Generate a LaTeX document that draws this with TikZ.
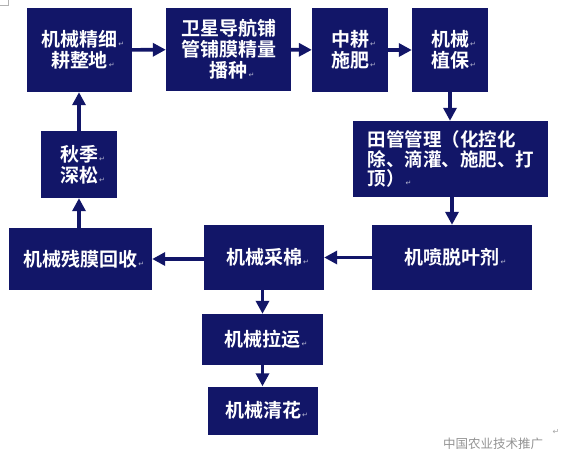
\documentclass[tikz,border=0pt]{standalone}
\usepackage{fontspec}
\newfontfamily\cjk{Noto Sans CJK SC Bold}
\newfontfamily\cjkr{Noto Sans CJK SC}
\newfontfamily\symf{DejaVu Sans}
\usetikzlibrary{arrows.meta}
\definecolor{navy}{RGB}{18,22,104}
\newcommand\parmark{\rlap{\hspace{1pt}\symf\fontsize{7}{7}\selectfont\color{white!70!navy}↵}}
\tikzset{
  box/.style={fill=navy, text=white, inner sep=0pt, align=center,
    font=\cjk\fontsize{19}{21}\selectfont},
  arr/.style={draw=navy, line width=3.6pt, -{Triangle[length=13pt,width=13pt]}},
}
\begin{document}
\begin{tikzpicture}[x=1pt,y=-1pt]
\fill[white] (0,0) rectangle (563,451);
\useasboundingbox (0,0) rectangle (563,451);
% corner mark
\draw[gray!60, line width=0.6pt] (0,5) -- (8,5) -- (8,0);
% boxes
\node[box, minimum width=105pt, minimum height=84pt] (A) at (79.5,50) {机械精细\parmark\\耕整地\parmark};
\node[box, minimum width=125pt, minimum height=83pt] (B) at (228.5,49.5) {卫星导航铺\\管铺膜精量\\播种\parmark};
\node[box, minimum width=76pt, minimum height=84pt] (C) at (350,50) {中耕\parmark\\施肥\parmark};
\node[box, minimum width=76pt, minimum height=84pt] (D) at (450,50) {机械\parmark\\植保\parmark};
\node[box, minimum width=195pt, minimum height=76pt, align=left, text width=166pt,
  font=\cjk\fontsize{18.5}{19.5}\selectfont] (E) at (450.5,159) {田管管理（化控化\\除、滴灌、施肥、打\\顶）\parmark};
\node[box, minimum width=160pt, minimum height=65pt] (F) at (452,257.5) {机喷脱叶剂\parmark};
\node[box, minimum width=120pt, minimum height=65pt] (G) at (264,257.5) {机械采棉\parmark};
\node[box, minimum width=143pt, minimum height=62pt] (H) at (80.5,259) {机械残膜回收\parmark};
\node[box, minimum width=76pt, minimum height=67pt] (I) at (79,164.5) {秋季\parmark\\深松\parmark};
\node[box, minimum width=121pt, minimum height=51pt] (J) at (262.5,339.5) {机械拉运\parmark};
\node[box, minimum width=110pt, minimum height=48pt] (K) at (263,410.5) {机械清花\parmark};
% connectors
\draw[arr] (A) -- (B);
\draw[arr] (B) -- (C);
\draw[arr] (C) -- (D);
\draw[arr] (D) -- (D |- E.north);
\draw[arr] (F |- E.south) -- (F);
\draw[arr] (F) -- (G);
\draw[arr] (G.west |- H) -- (H);
\draw[arr] (I |- H.north) -- (I);
\draw[arr] (I) -- (I |- A.south);
\draw[arr] (J |- G.south) -- (J);
\draw[arr] (J) -- (J |- K.north);
% watermark
\node[text=gray!85, font=\cjkr\fontsize{12.5}{12.5}\selectfont, inner sep=0pt] (wm) at (493,443.5) {中国农业技术推广};
\node[text=gray!70, font=\symf\fontsize{8}{8}\selectfont, inner sep=0pt] (pm) at (556,432) {↵};
\end{tikzpicture}
\end{document}
